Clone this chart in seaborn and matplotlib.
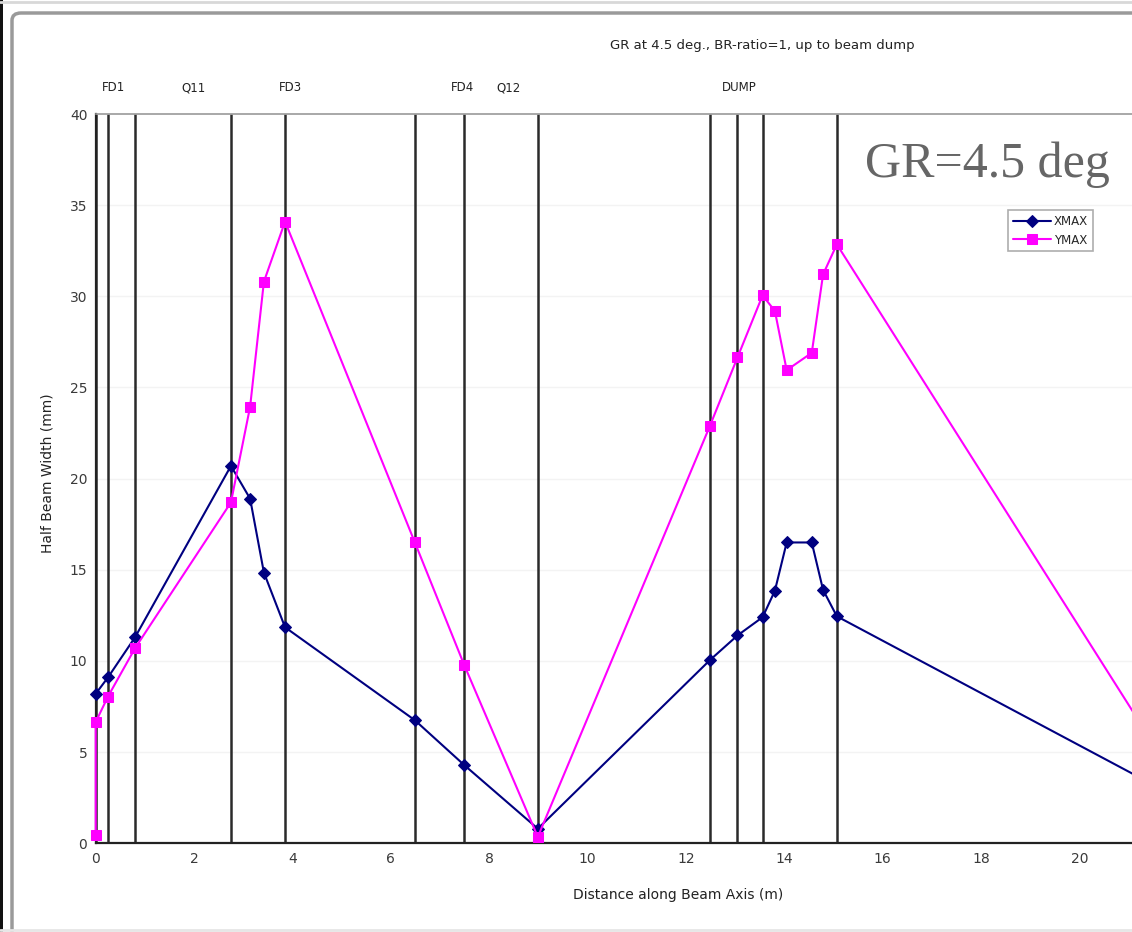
import matplotlib
matplotlib.use("Agg")
import matplotlib.pyplot as plt
import seaborn as sns
import pandas as pd
from matplotlib.patches import FancyBboxPatch, Rectangle
from matplotlib.lines import Line2D

# Beam envelope along the beam line
x_xmax = [0.0, 0.25, 0.80, 2.75, 3.14, 3.42, 3.85, 6.49, 7.49, 8.99,
          12.49, 13.05, 13.56, 13.81, 14.05, 14.56, 14.79, 15.07, 22.0]
xmax = [8.2, 9.1, 11.3, 20.7, 18.9, 14.85, 11.85, 6.75, 4.3, 0.8,
        10.05, 11.4, 12.4, 13.85, 16.5, 16.5, 13.9, 12.45, 2.5]

x_ymax = [0.0, 0.0, 0.25, 0.80, 2.75, 3.14, 3.42, 3.85, 6.49, 7.49, 8.99,
          12.49, 13.05, 13.56, 13.81, 14.05, 14.56, 14.79, 15.07, 22.0]
ymax = [0.45, 6.65, 8.05, 10.7, 18.7, 23.95, 30.8, 34.1, 16.5, 9.8, 0.35,
        22.9, 26.65, 30.05, 29.2, 25.95, 26.9, 31.2, 32.85, 3.35]

# Element boundaries and element names
boundaries = [0.0, 0.25, 0.80, 2.75, 3.85, 6.49, 7.49, 8.99,
              12.49, 13.05, 13.56, 15.07]
element_names = ["FD1", "Q11", "FD3", "FD4", "Q12", "DUMP"]
element_pos = [0.37, 1.98, 3.95, 7.45, 8.40, 13.08]

x_ticks = [0, 2, 4, 6, 8, 10, 12, 14, 16, 18, 20]
y_ticks = [0, 5, 10, 15, 20, 25, 30, 35, 40]

sns.set_theme(style="white")
plt.rcParams["font.family"] = ["DejaVu Sans"]

W, H = 1132, 932
fig = plt.figure(figsize=(W / 100, H / 100), dpi=100)
fig.patch.set_facecolor("white")

# Axes placed in pixel terms; the plot runs past the right edge
x0_px, y0_px, ppu_x = 95.7, 843.3, 49.18
top_px = 114.0
xmax_lim = 22.0
ax = fig.add_axes([x0_px / W, 1 - y0_px / H,
                   xmax_lim * ppu_x / W, (y0_px - top_px) / H])
ax.set_xlim(0, xmax_lim)
ax.set_ylim(0, 40)

# faint horizontal grid
for yv in y_ticks[1:-1]:
    ax.axhline(yv, color="#f3f3f3", lw=1.0, zorder=0)

# element boundaries
ax.vlines(boundaries, 0, 40, colors="#2a2a2a", lw=1.8, zorder=1)

df_x = pd.DataFrame({"s": x_xmax, "w": xmax})
df_y = pd.DataFrame({"s": x_ymax, "w": ymax})
sns.lineplot(data=df_x, x="s", y="w", estimator=None, sort=False, ax=ax,
             color="#000080", lw=1.5, marker="D", markersize=6,
             markeredgecolor="#000080", label="XMAX", zorder=3,
             clip_on=False)
sns.lineplot(data=df_y, x="s", y="w", estimator=None, sort=False, ax=ax,
             color="#FF00FF", lw=1.5, marker="s", markersize=7.5,
             markeredgecolor="#FF00FF", label="YMAX", zorder=4,
             clip_on=False)

ax.set_xticks(x_ticks)
ax.set_yticks(y_ticks)
ax.tick_params(axis="both", direction="in", length=4, width=1,
               colors="#222222", labelsize=10, labelcolor="#3a3a3a", pad=6)
ax.set_xlabel("")
ax.set_ylabel("")

for side in ["left", "bottom"]:
    ax.spines[side].set_color("#222222")
    ax.spines[side].set_linewidth(1.6)
ax.spines["top"].set_color("#999999")
ax.spines["top"].set_linewidth(1.2)
ax.spines["right"].set_visible(False)

# element names above the frame
for name, xp in zip(element_names, element_pos):
    ax.text(xp, 41.43, name, ha="center", va="center", fontsize=8.5,
            color="#222222", clip_on=False)

ax.get_legend().remove()
handles, labels = ax.get_legend_handles_labels()
leg = fig.legend(handles, labels, loc="upper left",
                 bbox_to_anchor=(1008 / W, 1 - 210 / H), fontsize=8.5,
                 frameon=True, fancybox=False, edgecolor="#999999",
                 handlelength=3.2, handletextpad=0.3, borderpad=0.4,
                 labelspacing=0.5, borderaxespad=0)
leg.get_frame().set_linewidth(1.2)

# titles and axis labels
fig.text(762 / W, 1 - 45 / H, "GR at 4.5 deg., BR-ratio=1, up to beam dump",
         ha="center", va="center", fontsize=9.5, color="#222222")
fig.text(678 / W, 1 - 895 / H, "Distance along Beam Axis (m)",
         ha="center", va="center", fontsize=10, color="#222222")
fig.text(48 / W, 1 - 473 / H, "Half Beam Width (mm)", rotation=90,
         ha="center", va="center", fontsize=10, color="#222222")
fig.text(865 / W, 1 - 177 / H, "GR=4.5 deg", ha="left", va="baseline",
         fontsize=36, color="#666666", family=["Liberation Serif"])

# window frame around the chart
fig.add_artist(FancyBboxPatch((12 / W, -20 / H), (W + 40) / W, (H - 13 + 20) / H,
                              boxstyle="round,pad=0,rounding_size=0.008",
                              transform=fig.transFigure, facecolor="none",
                              edgecolor="#9a9a9a", lw=2.5))
fig.add_artist(Rectangle((0, 0), 2.5 / W, 1, transform=fig.transFigure,
                         facecolor="#111111", edgecolor="none"))
fig.add_artist(Line2D([0, 1], [1 - 1.5 / H, 1 - 1.5 / H],
                      transform=fig.transFigure, color="#d8d8d8", lw=2))
fig.add_artist(Line2D([0, 1], [2 / H, 2 / H],
                      transform=fig.transFigure, color="#e6e6e6", lw=2))

fig.savefig("out.png", dpi=100)
